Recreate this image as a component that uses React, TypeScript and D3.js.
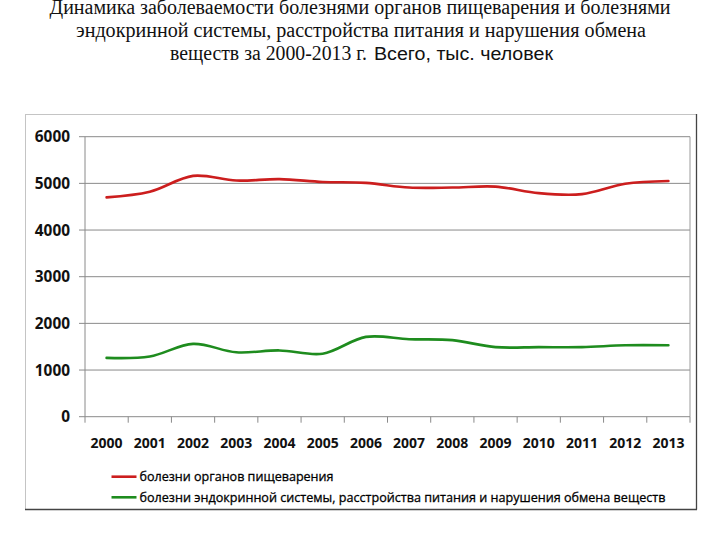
import React from "react";
import * as d3 from "d3";

const years = ["2000","2001","2002","2003","2004","2005","2006","2007","2008","2009","2010","2011","2012","2013"];
const digestive = [4700, 4820, 5160, 5060, 5090, 5030, 5010, 4910, 4910, 4930, 4790, 4770, 4990, 5050];
const endocrine = [1260, 1290, 1560, 1380, 1420, 1350, 1710, 1660, 1640, 1490, 1490, 1490, 1530, 1530];
const yTicks = [0, 1000, 2000, 3000, 4000, 5000, 6000];
const titleLines = [
  "Динамика заболеваемости болезнями органов пищеварения и болезнями",
  "эндокринной системы, расстройства питания и нарушения обмена",
];
const titleLine3Serif = "веществ за 2000-2013 г. ";
const titleLine3Sans = "Всего, тыс. человек";
const legendLabels = [
  "болезни органов пищеварения",
  "болезни эндокринной системы, расстройства питания и нарушения обмена веществ",
];
const colors = ["#CC1E1E", "#1E8C1E"];

export default function App() {
  const W = 720, H = 540;
  const left = 85, right = 690, top = 136.7, bottom = 416.7;
  const x = d3.scaleBand<string>().domain(years).range([left, right]);
  const y = d3.scaleLinear().domain([0, 6000]).range([bottom, top]);
  const line = d3
    .line<number>()
    .x((_, i) => (x(years[i]) as number) + x.bandwidth() / 2)
    .y((d) => y(d))
    .curve(d3.curveCatmullRom.alpha(0.5));
  const series = [digestive, endocrine];
  const tickXs = years.map((yr) => x(yr) as number).concat([right]);
  const axisFont = "'Open Sans', 'DejaVu Sans', sans-serif";

  return (
    <svg width={W} height={H} style={{ position: "absolute", left: 0, top: 0, background: "#fff" }}>
      <rect x={0} y={0} width={W} height={H} fill="#fff" />
      {/* title */}
      <g fontFamily="'Liberation Serif', 'Times New Roman', serif" fontSize={20} fill="#111" textAnchor="middle">
        <text x={360} y={14} textLength={621} lengthAdjust="spacingAndGlyphs">{titleLines[0]}</text>
        <text x={361} y={37} textLength={570} lengthAdjust="spacingAndGlyphs">{titleLines[1]}</text>
      </g>
      <text x={170} y={60} fill="#111">
        <tspan fontFamily="'Liberation Serif', 'Times New Roman', serif" fontSize={20} textLength={202} lengthAdjust="spacingAndGlyphs">{titleLine3Serif}</tspan>
        <tspan x={374} fontFamily="'Liberation Sans', Arial, sans-serif" fontSize={18} textLength={179} lengthAdjust="spacingAndGlyphs">{titleLine3Sans}</tspan>
      </text>

      {/* chart frame */}
      <line x1={25} y1={114.5} x2={696} y2={114.5} stroke="#c4c4c4" strokeWidth={1} />
      <line x1={25.5} y1={114} x2={25.5} y2={509} stroke="#c4c4c4" strokeWidth={1} />
      <line x1={696.5} y1={114} x2={696.5} y2={509.5} stroke="#444" strokeWidth={1.3} />
      <line x1={25} y1={509.5} x2={697} y2={509.5} stroke="#444" strokeWidth={1.3} />

      {/* gridlines */}
      {yTicks.filter((t) => t > 0).map((t) => (
        <line key={t} x1={left} x2={right} y1={y(t)} y2={y(t)} stroke="#8a8a8a" strokeWidth={1} />
      ))}
      <line x1={right} x2={right} y1={top} y2={bottom} stroke="#9a9a9a" strokeWidth={1} />

      {/* axes */}
      <line x1={left} x2={left} y1={top} y2={bottom} stroke="#8a8a8a" strokeWidth={1} />
      <line x1={left} x2={right} y1={bottom} y2={bottom} stroke="#8a8a8a" strokeWidth={1} />
      {yTicks.map((t) => (
        <line key={"yt" + t} x1={left - 6} x2={left} y1={y(t)} y2={y(t)} stroke="#8a8a8a" strokeWidth={1} />
      ))}
      {tickXs.map((tx, i) => (
        <line key={"xt" + i} x1={tx} x2={tx} y1={bottom} y2={bottom + 6} stroke="#8a8a8a" strokeWidth={1} />
      ))}
      <g fontFamily={axisFont} fontWeight="bold" fontSize={16} fill="#111" textAnchor="end">
        {yTicks.map((t) => (
          <text key={"yl" + t} x={70} y={y(t)} dy="0.36em" textLength={String(t).length * 8.8} lengthAdjust="spacingAndGlyphs">{t}</text>
        ))}
      </g>
      <g fontFamily={axisFont} fontWeight="bold" fontSize={15} fill="#111" textAnchor="middle">
        {years.map((yr) => (
          <text key={"xl" + yr} x={(x(yr) as number) + x.bandwidth() / 2} y={448} textLength={32} lengthAdjust="spacingAndGlyphs">{yr}</text>
        ))}
      </g>

      {/* lines */}
      {series.map((s, i) => (
        <path key={"s" + i} d={line(s) || ""} fill="none" stroke={colors[i]} strokeWidth={2.6} strokeLinejoin="round" strokeLinecap="round" />
      ))}

      {/* legend */}
      {legendLabels.map((lab, i) => {
        const ly = i === 0 ? 476.7 : 497.3;
        return (
          <g key={"lg" + i}>
            <line x1={111.5} x2={136.5} y1={ly} y2={ly} stroke={colors[i]} strokeWidth={2.6} />
            <text x={139.5} y={ly} dy="0.35em" fontFamily={axisFont} fontSize={13} fill="#000" stroke="#000" strokeWidth={0.3}
              textLength={i === 0 ? 194 : 526} lengthAdjust="spacingAndGlyphs">{lab}</text>
          </g>
        );
      })}
    </svg>
  );
}
